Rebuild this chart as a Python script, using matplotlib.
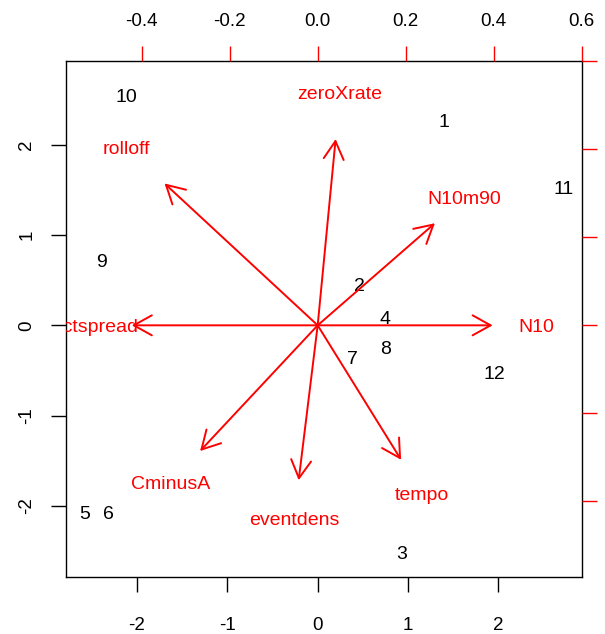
import matplotlib
matplotlib.use("Agg")
import matplotlib.pyplot as plt

plt.rcParams['font.family'] = ['Liberation Sans', 'DejaVu Sans']

# Observation scores (principal components 1 and 2)
obs_labels = ["1", "2", "3", "4", "5", "6", "7", "8", "9", "10", "11", "12"]
obs_pc1 = [1.395, 0.465, 0.927, 0.742, -2.58, -2.31, 0.380, 0.750, -2.395, -2.12, 2.724, 1.95]
obs_pc2 = [2.262, 0.454, -2.517, 0.085, -2.07, -2.07, -0.358, -0.240, 0.712, 2.54, 1.525, -0.524]

# Variable loadings
var_labels = ["zeroXrate", "N10m90", "N10", "tempo", "eventdens", "CminusA", "spectspread", "rolloff"]
var_pc1 = [0.051, 0.333, 0.497, 0.237, -0.054, -0.334, -0.528, -0.435]
var_pc2 = [0.529, 0.290, 0.0, -0.382, -0.44, -0.357, 0.0, 0.403]

obs_lim = (-2.785, 2.925)
ratio = 4.87
bottom_ticks = [-2, -1, 0, 1, 2]
top_ticks = [-0.4, -0.2, 0.0, 0.2, 0.4, 0.6]

fig = plt.figure(figsize=(6.05, 6.34), dpi=100)
pos = [66 / 605, 1 - 577 / 634, (582 - 66) / 605, (577 - 61) / 634]
ax = fig.add_axes(pos)
ax.set_xlim(*obs_lim)
ax.set_ylim(*obs_lim)
for s in ax.spines.values():
    s.set_linewidth(1.0)
    s.set_color('black')
ax.set_xticks(bottom_ticks)
ax.set_yticks(bottom_ticks)
ax.set_xticklabels([str(t) for t in bottom_ticks])
ax.set_yticklabels([str(t) for t in bottom_ticks], rotation=90, va='center')
ax.tick_params(axis='x', direction='out', length=11, width=1.0, pad=18, labelsize=13.5)
ax.tick_params(axis='y', direction='out', length=11, width=1.0, pad=11, labelsize=13.5)

for lab, x, y in zip(obs_labels, obs_pc1, obs_pc2):
    ax.text(x, y, lab, ha='center', va='center_baseline', fontsize=14, color='black', clip_on=True)

ax2 = fig.add_axes(pos, frameon=False)
ax2.set_xlim(obs_lim[0] / ratio, obs_lim[1] / ratio)
ax2.set_ylim(obs_lim[0] / ratio, obs_lim[1] / ratio)
ax2.xaxis.tick_top()
ax2.yaxis.tick_right()
ax2.set_xticks(top_ticks)
ax2.set_xticklabels(["-0.4", "-0.2", "0.0", "0.2", "0.4", "0.6"])
ax2.set_yticks(top_ticks)
ax2.set_yticklabels([])
ax2.tick_params(axis='x', direction='out', length=11, width=1.0, color='red', labelcolor='black', pad=11, labelsize=13.5)
ax2.tick_params(axis='y', direction='out', length=11, width=1.0, color='red')

for lab, x, y in zip(var_labels, var_pc1, var_pc2):
    ax2.annotate('', xy=(0.8 * x, 0.8 * y), xytext=(0, 0),
                 arrowprops=dict(arrowstyle='->,head_length=1.3,head_width=0.72',
                                 color='red', lw=1.4, shrinkA=0, shrinkB=0,
                                 mutation_scale=10))
    ax2.text(x, y, lab, ha='center', va='center_baseline', fontsize=14, color='red', clip_on=True)

fig.savefig("out.png", dpi=100, facecolor='white')
